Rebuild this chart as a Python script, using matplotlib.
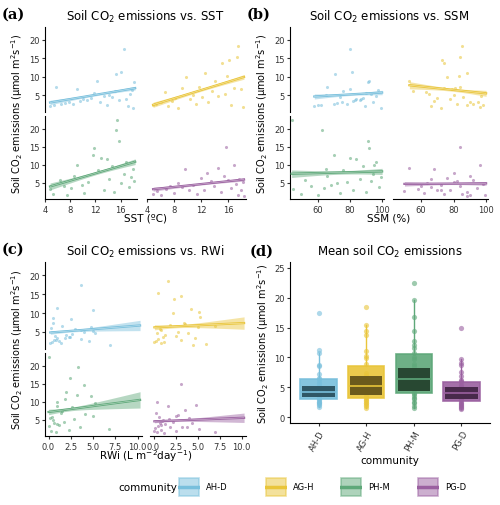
import matplotlib.pyplot as plt
import numpy as np
from matplotlib.patches import Rectangle

communities = ['AH-D', 'AG-H', 'PH-M', 'PG-D']
colors = ['#78bfdc', '#e9c53a', '#5ea879', '#9a60a0']
dark = ['#2f5766', '#6b5a1c', '#284832', '#48294b']

# emissions (umol m-2 s-1), one entry per measurement
flux = {
    'AH-D': [2.1, 2.4, 7.3, 2.8, 3.0, 3.3, 2.6, 6.6, 3.5, 4.1, 3.8, 4.4, 5.7, 8.8, 3.2, 4.9, 2.5, 5.2, 4.6, 6.1,
             10.8, 3.7, 11.3, 17.5, 4.0, 2.2, 5.5, 6.4, 1.6, 8.5],
    'AG-H': [2.3, 2.7, 3.1, 5.8, 2.0, 3.6, 4.2, 1.5, 6.9, 9.9, 3.9, 5.1, 2.8, 7.4, 4.6, 11.0, 3.3, 6.2, 8.9, 4.8,
             13.7, 5.4, 10.2, 14.5, 2.4, 7.1, 15.4, 18.4, 6.6, 1.8],
    'PH-M': [3.2, 1.8, 5.8, 4.1, 1.5, 10.0, 3.6, 6.9, 4.5, 12.8, 14.5, 2.3, 8.5, 5.2, 12.0, 3.0, 11.5, 6.1, 9.7, 2.5,
             19.7, 22.4, 16.7, 4.8, 7.4, 10.8, 3.9, 6.5, 8.9, 5.5],
    'PG-D': [2.0, 2.6, 1.6, 3.4, 4.1, 2.2, 5.0, 3.8, 8.7, 2.9, 4.5, 1.9, 6.2, 3.1, 7.6, 5.4, 4.0, 9.0, 2.4, 6.8,
             15.0, 5.8, 3.5, 9.8, 4.7, 1.5, 6.0, 3.0, 5.2, 1.4],
}
sst = {
    'AH-D': [4.8, 5.5, 5.8, 6.5, 7.2, 7.8, 8.4, 9.0, 9.5, 10.1, 10.7, 11.3, 11.8, 12.2, 12.7, 13.3, 13.8, 14.2,
             14.7, 15.1, 15.2, 15.7, 16.0, 16.6, 16.9, 17.2, 17.5, 17.8, 18.0, 18.2],
    'AG-H': [4.9, 5.4, 6.0, 6.6, 7.1, 7.7, 8.2, 8.6, 9.2, 9.8, 10.3, 10.8, 11.2, 11.7, 12.1, 12.6, 13.0, 13.6,
             14.0, 14.5, 15.0, 15.5, 15.8, 16.1, 16.4, 16.8, 17.2, 17.4, 17.8, 18.1],
    'PH-M': [4.8, 5.3, 6.4, 7.0, 7.5, 9.0, 8.1, 8.6, 9.8, 11.6, 11.8, 10.2, 12.4, 10.8, 12.9, 13.3, 13.9, 14.2,
             14.6, 15.0, 15.3, 15.5, 15.7, 16.1, 16.5, 16.9, 17.3, 17.6, 17.9, 18.2],
    'PG-D': [4.9, 5.5, 6.1, 6.8, 7.4, 8.0, 8.5, 9.1, 9.6, 10.2, 10.8, 11.3, 11.9, 12.4, 12.9, 13.4, 13.9, 14.4,
             14.9, 15.3, 15.7, 16.0, 16.4, 16.8, 17.1, 17.4, 17.6, 17.9, 18.1, 18.3],
}
ssm = {
    'AH-D': [58, 62, 66, 70, 72, 75, 78, 80, 82, 84, 86, 88, 90, 92, 94, 96, 60, 65, 74, 76,
             71, 83, 81, 80, 87, 89, 93, 97, 99, 91],
    'AG-H': [88, 92, 95, 63, 66, 68, 70, 72, 74, 76, 78, 80, 82, 84, 86, 88, 90, 55, 53, 97,
             74, 65, 83, 73, 98, 81, 84, 85, 79, 96],
    'PH-M': [45, 50, 52, 56, 60, 95, 64, 66, 68, 70, 92, 74, 76, 78, 80, 82, 84, 86, 88, 90,
             63, 44, 91, 72, 94, 96, 98, 99, 65, 93],
    'PG-D': [85, 50, 90, 58, 60, 62, 64, 66, 68, 70, 72, 74, 76, 78, 80, 82, 84, 53, 88, 90,
             84, 92, 94, 96, 98, 99, 66, 72, 80, 88],
}
rwi = {
    'AH-D': [0.2, 0.4, 0.5, 0.6, 0.8, 1.0, 1.2, 1.5, 1.8, 2.0, 2.3, 2.6, 3.0, 0.5, 3.7, 4.0, 4.5, 5.0, 5.2, 0.3,
             5.0, 2.4, 1.0, 3.7, 0.7, 1.4, 3.6, 4.8, 6.9, 2.5],
    'AG-H': [0.1, 0.3, 0.5, 0.7, 0.9, 1.1, 1.3, 4.5, 1.9, 2.2, 2.5, 2.8, 3.1, 3.5, 3.9, 4.3, 4.7, 5.1, 5.3, 0.4,
             2.3, 0.8, 5.2, 3.1, 1.2, 3.6, 0.5, 1.6, 7.0, 6.0],
    'PH-M': [0.1, 0.3, 0.4, 0.6, 0.8, 1.0, 1.2, 1.4, 1.7, 2.0, 4.0, 2.3, 2.6, 2.9, 3.2, 3.5, 4.8, 5.0, 5.2, 6.8,
             3.3, 0.0, 2.4, 0.5, 1.5, 1.9, 0.9, 4.1, 1.0, 0.2],
    'PG-D': [0.1, 0.2, 0.4, 0.5, 0.7, 0.9, 1.1, 1.3, 1.6, 1.9, 2.2, 2.5, 2.8, 3.2, 3.6, 4.0, 4.4, 4.8, 5.2, 0.3,
             3.1, 0.6, 0.8, 0.4, 1.0, 7.0, 2.5, 3.8, 1.8, 1.2],
}

W, H = 500, 506
fig = plt.figure(figsize=(W / 100, H / 100), dpi=100)
plt.rcParams['font.family'] = 'DejaVu Sans'
ylab = 'Soil CO$_2$ emissions (μmol m$^2$s$^{-1}$)'


def box(x0, x1, y0, y1):
    return fig.add_axes([x0 / W, 1 - y1 / H, (x1 - x0) / W, (y1 - y0) / H])


def style(ax, xlim, ylim, yticks):
    ax.set_xlim(*xlim)
    ax.set_ylim(*ylim)
    ax.set_yticks(yticks)
    for s in ['top', 'right']:
        ax.spines[s].set_visible(False)
    ax.tick_params(labelsize=6, length=2.5, colors='#333333', pad=1.5)


def facet(xdata, xlim, xticks, xticklabels, cols, rows, title, label, xlabel):
    for k, c in enumerate(communities):
        r, cc = divmod(k, 2)
        ax = box(cols[cc][0], cols[cc][1], rows[r][0], rows[r][1])
        x = np.array(xdata[c], float)
        y = np.array(flux[c], float)
        ax.scatter(x, y, s=5, color=colors[k], alpha=0.55, lw=0, zorder=2)
        b, a = np.polyfit(x, y, 1)
        xs = np.linspace(x.min(), xlim[1] - 0.02 * (xlim[1] - xlim[0]), 50)
        res = y - (a + b * x)
        se = 0.5 * np.sqrt(res.var() / len(x) * (1 + (xs - x.mean()) ** 2 / x.var()))
        ax.fill_between(xs, a + b * xs - se, a + b * xs + se, color=colors[k], alpha=0.45, lw=0, zorder=3)
        ax.plot(xs, a + b * xs, color=colors[k], lw=1.6, zorder=4)
        ax.plot(xs, a + b * xs, color='white', lw=0.4, alpha=0.6, zorder=5)
        style(ax, xlim, (0.5, 23.5), [5, 10, 15, 20])
        ax.set_xticks(xticks)
        if r == 0:
            ax.spines['bottom'].set_visible(False)
            ax.tick_params(axis='x', bottom=False, labelbottom=False)
        else:
            ax.set_xticklabels(xticklabels)
        if cc == 1:
            ax.spines['left'].set_visible(False)
            ax.tick_params(axis='y', left=False, labelleft=False)
    x0, x1 = cols[0][0], cols[1][1]
    y0, y1 = rows[0][0], rows[1][1]
    fig.text((x0 + x1) / 2 / W, 1 - (y0 - 11) / H, title, ha='center', va='center', fontsize=8.5)
    fig.text((cols[0][0] - 43) / W, 1 - (y0 - 13) / H, label, fontsize=10.5, fontweight='bold',
             family='DejaVu Serif', va='center')
    fig.text((x0 + x1) / 2 / W, 1 - (y1 + 19) / H, xlabel, ha='center', va='center', fontsize=7.5)
    fig.text((cols[0][0] - 28) / W, 1 - (y0 + y1) / 2 / H, ylab, rotation=90, ha='center', va='center',
             fontsize=7)


facet(sst, (4, 18.6), [4, 8, 12, 16], ['4', '8', '12', '16'],
      [(45, 137), (147, 246)], [(28, 113), (117, 200)],
      'Soil CO$_2$ emissions vs. SST', '(a)', 'SST (ºC)')
facet(ssm, (43, 101), [60, 80, 100], ['60', '80', '100'],
      [(290, 384), (393, 488)], [(28, 113), (117, 200)],
      'Soil CO$_2$ emissions vs. SSM', '(b)', 'SSM (%)')
facet(rwi, (-0.4, 10.5), [0, 2.5, 5, 7.5, 10], ['0.0', '2.5', '5.0', '7.5', '10.0'],
      [(45, 142), (150, 246)], [(263, 350), (354, 437)],
      'Soil CO$_2$ emissions vs. RWi', '(c)', 'RWi (L m$^{-2}$day$^{-1}$)')

# panel d
ax = box(290, 490, 263, 424)
for k, c in enumerate(communities):
    y = np.array(flux[c], float)
    q1, med, q3 = np.percentile(y, [25, 50, 75])
    iqr = q3 - q1
    lo = y[y >= q1 - 1.5 * iqr].min()
    hi = y[y <= q3 + 1.5 * iqr].max()
    n = 1.58 * iqr / np.sqrt(len(y))
    ax.plot([k, k], [lo, q1], color=colors[k], lw=1, zorder=1)
    ax.plot([k, k], [q3, hi], color=colors[k], lw=1, zorder=1)
    ax.scatter(np.full(len(y), k), y, s=14, color=colors[k], alpha=0.6, lw=0, zorder=2)
    ax.add_patch(Rectangle((k - 0.38, q1), 0.76, iqr, facecolor=colors[k], edgecolor=colors[k],
                           alpha=0.9, lw=1.2, zorder=3))
    ax.add_patch(Rectangle((k - 0.34, med - n), 0.68, 2 * n, facecolor=dark[k], lw=0, zorder=4))
    ax.plot([k - 0.34, k + 0.34], [med, med], color=colors[k], lw=1.2, zorder=5)
style(ax, (-0.6, 3.6), (-1, 26), [0, 5, 10, 15, 20, 25])
ax.set_xticks(range(4))
ax.set_xticklabels(communities, rotation=60, ha='right', rotation_mode='anchor')
ax.set_xlabel('community', fontsize=7.5, labelpad=2)
ax.set_ylabel(ylab, fontsize=7, labelpad=2)
fig.text(250 / W, 1 - 252 / H, '(d)', fontsize=10.5, fontweight='bold', family='DejaVu Serif', va='center')
fig.text(390 / W, 1 - 252 / H, 'Mean soil CO$_2$ emissions', ha='center', va='center', fontsize=8.5)

# legend
fig.text(118 / W, 1 - 488 / H, 'community', fontsize=7.5, va='center')
lx = [178, 265, 340, 417]
for k, c in enumerate(communities):
    lax = box(lx[k], lx[k] + 22, 478, 498)
    lax.set_xlim(0, 1)
    lax.set_ylim(0, 1)
    lax.axis('off')
    lax.add_patch(Rectangle((0.05, 0.05), 0.9, 0.9, facecolor=colors[k], alpha=0.5,
                            edgecolor=colors[k], lw=1.2))
    lax.plot([0.05, 0.95], [0.5, 0.5], color=colors[k], lw=2.5)
    fig.text((lx[k] + 28) / W, 1 - 488 / H, c, fontsize=6, va='center')

fig.savefig('out.png', dpi=100)
